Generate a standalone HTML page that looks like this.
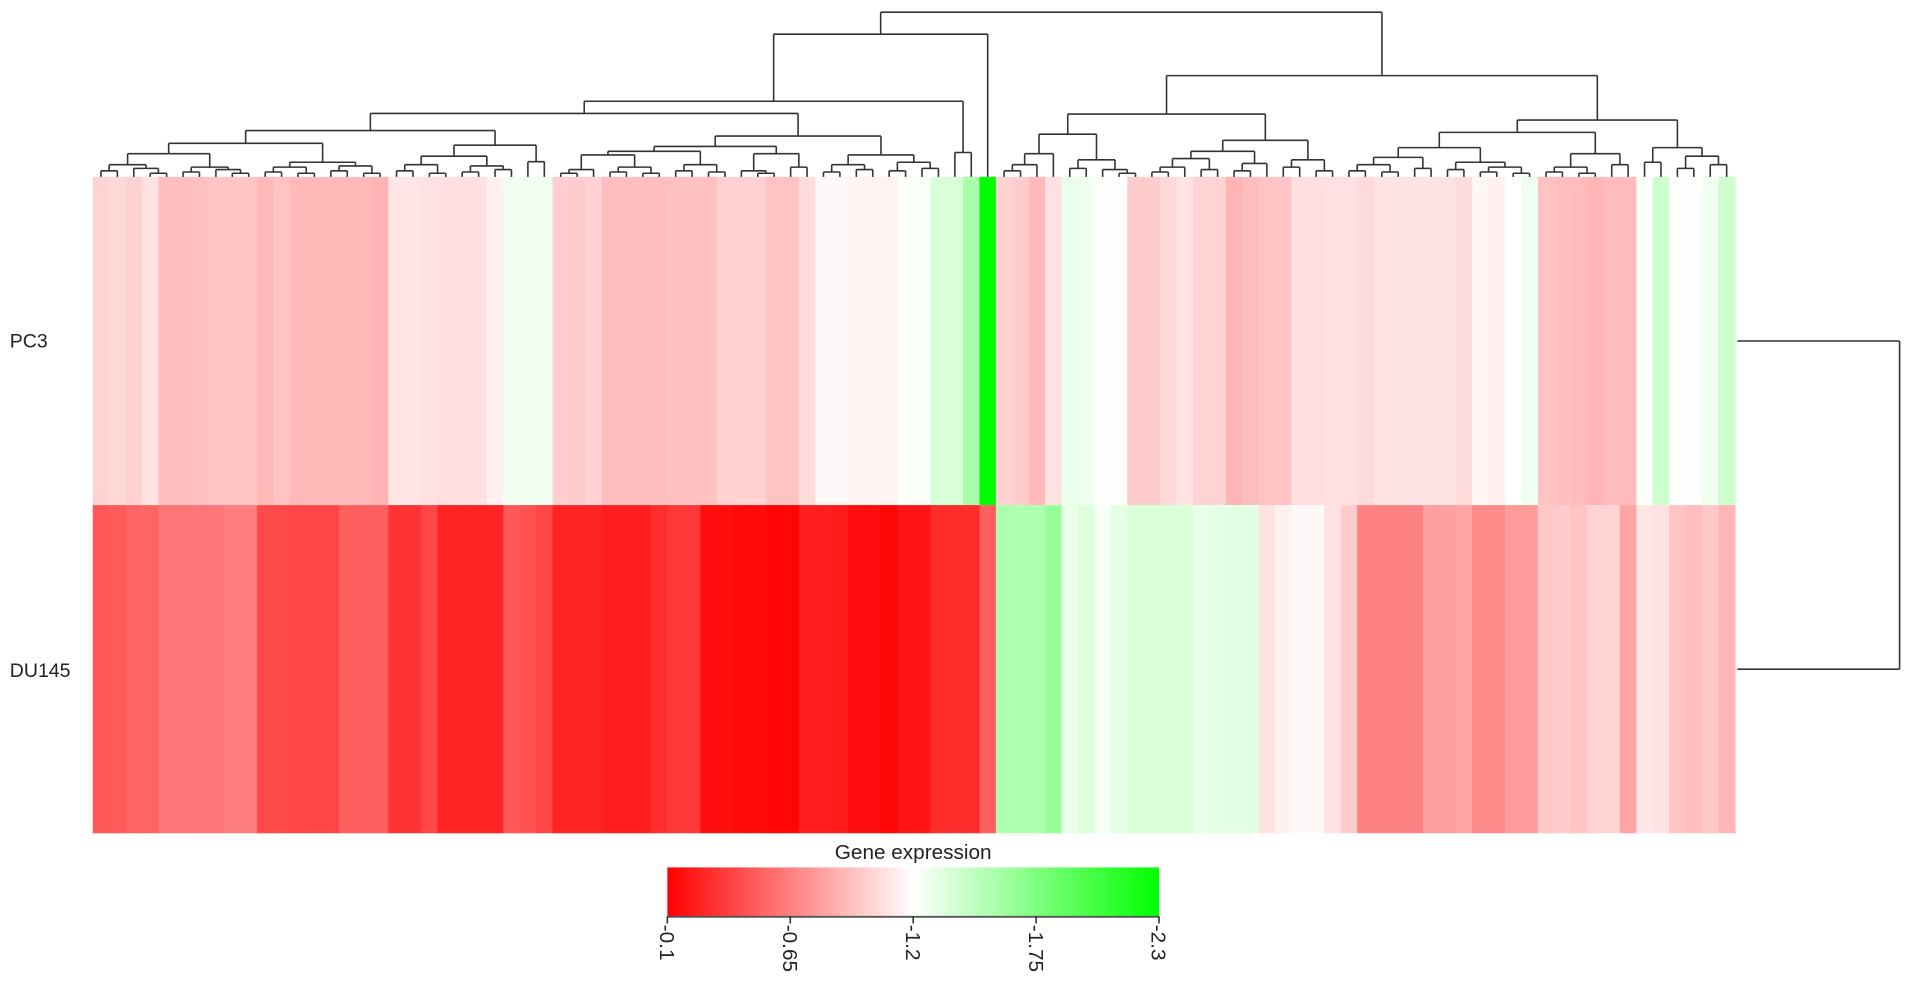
<!DOCTYPE html>
<html><head><meta charset="utf-8"><style>
html,body{margin:0;padding:0;background:#fff;}
svg{display:block;}
text{font-family:"Liberation Sans",Arial,sans-serif;fill:#222;}
</style></head>
<body>
<svg id="chart" width="1913" height="1006" viewBox="0 0 1568 824.6" preserveAspectRatio="none" xmlns="http://www.w3.org/2000/svg">
<defs>
<linearGradient id="cbgrad" x1="0" x2="1" y1="0" y2="0">
<stop offset="0" stop-color="#ff0000"/><stop offset="0.5" stop-color="#ffffff"/><stop offset="1" stop-color="#00ff00"/>
</linearGradient>
</defs>
<g id="cells"></g>
<g id="coldendro"></g>
<g id="rowdendro"></g>
<text x="8" y="285" font-size="16">PC3</text>
<text x="8" y="555" font-size="16">DU145</text>
<text x="748.5" y="704" font-size="17" text-anchor="middle">Gene expression</text>
<rect x="547" y="711" width="403" height="40" fill="url(#cbgrad)"/>
<line x1="547" y1="751.5" x2="950" y2="751.5" stroke="#555" stroke-width="1.5"/>
<g id="cbticks"></g>
</svg>
<script>
const rowNames = ["PC3", "DU145"];
const pc3Values = [-1.01,-1.03,-1.0,-1.08,-0.92,-0.92,-0.93,-0.95,-0.95,-0.95,-0.9,-0.94,-0.9,-0.9,-0.9,-0.9,-0.9,-0.87,-1.09,-1.09,-1.07,-1.06,-1.06,-1.06,-1.14,-1.26,-1.26,-1.26,
-0.99,-0.98,-1.01,-0.92,-0.92,-0.92,-0.92,-0.93,-0.93,-0.93,-1.0,-1.0,-1.0,-0.94,-0.94,-1.05,-1.17,-1.17,-1.15,-1.15,-1.15,-1.22,-1.22,-1.37,-1.37,-1.57,-2.3,
-1.01,-0.98,-0.9,-1.07,-1.29,-1.26,-1.21,-1.21,-0.98,-0.98,-1.03,-1.08,-1.01,-1.01,-0.88,-0.92,-0.95,-0.95,-1.06,-1.06,-1.07,-1.07,-1.04,-1.08,-1.08,-1.08,-1.08,
-1.08,-1.05,-1.16,-1.14,-1.2,-1.27,-0.94,-0.92,-0.91,-0.88,-0.91,-0.91,-1.22,-1.42,-1.21,-1.21,-1.26,-1.42];
const du145Values = [-0.47,-0.49,-0.53,-0.53,-0.6,-0.6,-0.6,-0.6,-0.64,-0.64,-0.42,-0.42,-0.4,-0.4,-0.4,-0.51,-0.51,-0.51,-0.32,-0.32,-0.4,-0.25,-0.25,-0.25,-0.25,-0.47,-0.45,-0.4,
-0.25,-0.25,-0.25,-0.23,-0.23,-0.23,-0.3,-0.34,-0.34,-0.16,-0.16,-0.14,-0.14,-0.12,-0.12,-0.23,-0.23,-0.21,-0.16,-0.16,-0.12,-0.19,-0.19,-0.29,-0.29,-0.29,-0.51,
-1.55,-1.55,-1.55,-1.65,-1.29,-1.35,-1.24,-1.31,-1.37,-1.37,-1.37,-1.37,-1.29,-1.32,-1.32,-1.32,-1.07,-1.14,-1.17,-1.17,-1.07,-0.98,-0.66,-0.66,-0.66,-0.66,-0.79,
-0.79,-0.81,-0.7,-0.7,-0.77,-0.77,-0.96,-0.98,-0.94,-1.01,-1.01,-0.81,-1.09,-1.07,-0.94,-0.92,-0.96,-0.88];
const colorTicks = [-0.1, -0.65, -1.2, -1.75, -2.3];
const tickLabels = ["-0.1", "-0.65", "-1.2", "-1.75", "-2.3"];
// column dendrogram: [height, left, right], leaves = column index
const colTree = [135,
 [117,
  [62,
   [52,
    [38,
     [27.5,[19,[10,[5,0,1],[7,2,[3,3,4]]],[8,[4,5,6],[6,7,[3,8,9]]]],[12,[8,[4,10,11],[3,12,13]],[9,[5,14,15],[3,16,17]]]],
     [26,[17,[10,[5,18,19],[3,20,21]],[9,[4,22,23],[6,24,25]]],[12.5,26,27]]],
    [33.5,
     [25,[21,[18,[6,[3,28,29],30],[8,[4,31,32],[3,33,34]]],[10,[5,35,36],[4,37,38]]],[19,[5,39,[3,40,41]],[8,42,43]]],
     [18,[10,[4,44,45],[6,46,47]],[12,[5,48,49],[7,50,51]]]]],
   [20,52,53]],
  54],
 [83,
  [51.5,
   [35,[19,[10,[5,55,56],57],58],[14,[7,59,60],[6,61,[3,62,63]]]],
   [30,[21,[15,[8,[4,64,65],66],[6,67,68]],[11,[5,69,70],71]],[14,[8,72,73],[5,74,75]]]],
  [46.6,
   [36.5,[24,[16,[10,[5,76,77],[4,78,79]],[7,80,81]],[12,[6,82,83],[8,[4,84,85],[3,86,87]]]],[19,[8,[4,88,89],[3,90,91]],[10,92,93]]],
   [24,[12,94,95],[17,[7,96,97],[10,98,99]]]]]];
const rowTreeHeight = [1];

const NS = "http://www.w3.org/2000/svg";
const hmLeft = 76, hmRight = 1422, hmTop = 145, rowH = 269;
const nCols = pc3Values.length;
const colW = (hmRight - hmLeft) / nCols;
const xCol = i => hmLeft + colW * i;
const xCenter = i => hmLeft + colW * (i + 0.5);
const yRow = r => hmTop + rowH * r;
const yDendro = h => hmTop - h; // 1 unit = 1px
function color(v) {
  const mid = -1.2, half = 1.1;
  if (v >= mid) { const t = Math.min(1, (v - mid) / half); const c = Math.round(255 * (1 - t)); return `rgb(255,${c},${c})`; }
  const t = Math.min(1, (mid - v) / half); const c = Math.round(255 * (1 - t)); return `rgb(${c},255,${c})`;
}
const cells = document.getElementById('cells');
[pc3Values, du145Values].forEach((vals, r) => {
  vals.forEach((v, i) => {
    const rc = document.createElementNS(NS, 'rect');
    rc.setAttribute('x', xCol(i)); rc.setAttribute('y', yRow(r));
    rc.setAttribute('width', colW + 0.6); rc.setAttribute('height', rowH);
    rc.setAttribute('fill', color(v));
    
    
    cells.appendChild(rc);
  });
});
const cd = document.getElementById('coldendro');
function line(g, x1, y1, x2, y2, name) {
  const l = document.createElementNS(NS, 'line');
  l.setAttribute('x1', x1); l.setAttribute('y1', y1); l.setAttribute('x2', x2); l.setAttribute('y2', y2);
  l.setAttribute('stroke', '#333'); l.setAttribute('stroke-width', '1.3');
  
  
  g.appendChild(l);
}
function draw(node) {
  if (typeof node === 'number') return { x: xCenter(node), h: 0 };
  const a = draw(node[1]), b = draw(node[2]);
  const y = yDendro(node[0]);
  line(cd, a.x, yDendro(a.h), a.x, y, 'dendrogram-branch');
  line(cd, b.x, yDendro(b.h), b.x, y, 'dendrogram-branch');
  line(cd, a.x, y, b.x, y, 'dendrogram-branch');
  return { x: (a.x + b.x) / 2, h: node[0] };
}
draw(colTree);
const rd = document.getElementById('rowdendro');
const rx0 = 1424, rxScale = 133;
const ry1 = yRow(0) + rowH / 2, ry2 = yRow(1) + rowH / 2;
const rx = rx0 + rxScale * rowTreeHeight[0];
line(rd, rx0, ry1, rx, ry1, 'row-dendrogram-branch');
line(rd, rx0, ry2, rx, ry2, 'row-dendrogram-branch');
line(rd, rx, ry1, rx, ry2, 'row-dendrogram-branch');
const cbt = document.getElementById('cbticks');
const cbX = v => 547 + (v - (-0.1)) / (-2.3 - (-0.1)) * 403;
colorTicks.forEach((v, i) => {
  line(cbt, cbX(v), 751, cbX(v), 757, 'colorbar-tick');
  const t = document.createElementNS(NS, 'text');
  t.setAttribute('x', 0); t.setAttribute('y', 0);
  t.setAttribute('font-size', '17');
  t.setAttribute('transform', `translate(${cbX(v) - 6},758) rotate(90)`);
  t.textContent = tickLabels[i];
  
  
  cbt.appendChild(t);
});
</script>
</body></html>
